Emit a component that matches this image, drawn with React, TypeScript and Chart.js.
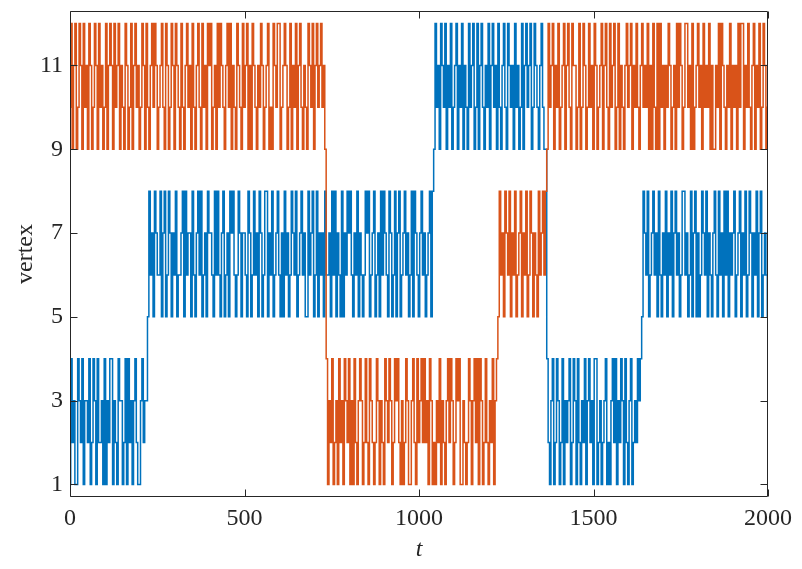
import { useEffect, useRef } from "react";
import { Chart, registerables } from "chart.js";

Chart.register(...registerables);

// sampling interval along t of the hand-read values
const T_STEP = 4;

const xTickValues = [0, 500, 1000, 1500, 2000];
const yTickValues = [1, 3, 5, 7, 9, 11];

// ---- blue series (segments start at these t values) ----
const blueStarts = [0, 224, 1044, 1368, 1640];
const blueSeg1 = [
  1, 4, 2, 3, 1, 1, 4, 3, 2, 4, 1, 3, 3, 2, 4, 1, 2, 4, 3, 1, 4, 2, 2, 3, 1, 4, 1, 3, 2, 4,
  4, 1, 3, 2, 1, 4, 3, 3, 1, 2, 4, 1, 4, 2, 3, 1, 3, 4, 2, 1, 1, 3, 4, 2, 3, 3,
];
const blueSeg2 = [
  5, 8, 6, 7, 5, 8, 7, 6, 6, 8, 5, 7, 8, 5, 6, 8, 7, 5, 7, 6, 8, 5, 6, 6, 7, 8, 5, 8, 6, 7,
  7, 5, 8, 6, 5, 7, 8, 6, 8, 5, 6, 7, 5, 8, 7, 7, 6, 5, 8, 6, 8, 6, 5, 7, 8, 5, 6, 7, 5, 8,
  7, 8, 6, 5, 6, 8, 7, 5, 7, 7, 6, 5, 8, 7, 5, 6, 8, 6, 7, 5, 8, 7, 5, 6, 8, 8, 5, 7, 6, 8,
  5, 6, 7, 8, 6, 5, 7, 5, 8, 6, 7, 5, 6, 8, 7, 6, 8, 5, 6, 7, 8, 6, 7, 5, 5, 8, 6, 7, 8, 5,
  6, 8, 5, 7, 6, 7, 5, 8, 6, 6, 7, 5, 8, 6, 8, 5, 7, 6, 5, 8, 5, 7, 6, 8, 7, 8, 6, 5, 7, 6,
  8, 5, 7, 6, 5, 6, 8, 7, 8, 5, 6, 7, 8, 5, 6, 7, 5, 8, 6, 8, 7, 6, 5, 8, 7, 5, 6, 8, 5, 7,
  8, 5, 6, 7, 8, 6, 7, 5, 6, 8, 5, 8, 7, 6, 5, 7, 8, 6, 7, 5, 6, 7, 8, 5, 8,
];
const blueSeg3 = [
  9, 12, 10, 11, 9, 12, 11, 10, 12, 9, 11, 10, 12, 9, 10, 11, 12, 9, 11, 10,
  12, 9, 11, 10, 9, 12, 10, 11, 12, 9, 10, 12, 9, 11, 12, 10, 9, 11, 10, 12,
  9, 11, 12, 10, 11, 9, 12, 10, 9, 11, 12, 10, 9, 12, 11, 10, 11, 9, 12, 10,
  11, 9, 10, 12, 9, 11, 12, 10, 11, 12, 9, 10, 12, 11, 10, 9, 11, 12, 10, 9, 9,
];
const blueSeg4 = [
  4, 2, 1, 3, 4, 1, 2, 4, 3, 1, 2, 4, 1, 3, 2, 3, 4, 1, 2, 4, 3, 1, 4, 2, 1, 3, 2, 4, 1, 3,
  4, 2, 3, 1, 4, 4, 1, 2, 3, 1, 2, 3, 4, 1, 2, 1, 3, 4, 2, 4, 1, 3, 2, 4, 3, 1, 4, 2, 1, 3,
  4, 1, 2, 3, 2, 4, 3, 4,
];
const blueSeg5 = [
  5, 8, 7, 6, 8, 5, 6, 7, 8, 6, 7, 5, 8, 6, 5, 7, 6, 8, 5, 7, 6, 8, 5, 7, 8, 6, 7, 5, 6, 8,
  8, 6, 7, 5, 6, 8, 5, 7, 8, 5, 7, 5, 6, 8, 7, 6, 8, 5, 7, 6, 5, 7, 8, 6, 5, 8, 6, 7, 5, 8,
  6, 8, 5, 7, 6, 7, 8, 5, 6, 7, 8, 5, 7, 6, 8, 5, 6, 8, 7, 5, 7, 6, 8, 5, 7, 8, 5, 6, 7, 6,
  5,
];

// ---- orange series ----
const orangeStarts = [0, 736, 1228, 1368];
const orangeSeg1 = [
  10, 12, 9, 11, 12, 9, 10, 12, 11, 9, 12, 10, 11, 9, 12, 11, 9, 10, 12, 11,
  9, 12, 10, 11, 9, 10, 12, 9, 11, 12, 11, 9, 12, 10, 11, 12, 9, 11, 10, 9,
  12, 11, 9, 10, 12, 9, 11, 12, 10, 11, 9, 10, 12, 11, 9, 12, 10, 9, 11, 12,
  10, 12, 11, 9, 10, 11, 12, 10, 9, 12, 11, 9, 10, 12, 11, 9, 12, 11, 10, 9,
  12, 10, 9, 11, 12, 10, 11, 9, 12, 10, 9, 11, 12, 10, 9, 12, 10, 11, 9, 12,
  11, 12, 9, 10, 11, 9, 12, 10, 12, 11, 10, 9, 11, 12, 10, 12, 9, 11, 10, 9,
  12, 11, 10, 9, 12, 10, 11, 12, 9, 11, 9, 12, 11, 10, 9, 11, 10, 12, 11, 9,
  10, 11, 12, 9, 10, 9, 12, 11, 10, 12, 12, 9, 10, 11, 12, 11, 9, 10, 12, 9,
  11, 10, 12, 9, 11, 12, 10, 9, 11, 10, 9, 12, 11, 10, 12, 9, 11, 12, 10, 11,
  12, 10, 11, 9,
];
const orangeSeg2 = [
  4, 1, 3, 2, 4, 1, 2, 3, 1, 4, 2, 3, 1, 4, 3, 2, 4, 1, 3, 1, 4, 2, 1, 3, 4, 3, 1, 2, 4, 2,
  1, 4, 3, 2, 1, 2, 4, 3, 1, 3, 2, 1, 4, 3, 2, 4, 3, 1, 2, 4, 3, 4, 2, 1, 3, 1, 2, 4, 3, 1,
  1, 3, 4, 2, 1, 4, 2, 3, 4, 2, 4, 2, 3, 1, 4, 3, 1, 2, 1, 3, 2, 4, 1, 3, 2, 1, 3, 4, 2, 4,
  3, 1, 2, 4, 3, 4, 1, 1, 3, 2, 1, 2, 4, 3, 1, 3, 4, 2, 4, 1, 4, 3, 1, 2, 4, 2, 1, 3, 2, 4,
  1, 3, 4,
];
const orangeSeg3 = [
  5, 8, 6, 7, 5, 8, 7, 6, 8, 5, 7, 6, 8, 5, 6, 7, 8, 5, 7, 6, 8, 5, 6, 8, 7, 5, 7, 6, 5, 8,
  6, 7, 8, 6, 8,
];
const orangeSeg4 = [
  9, 12, 10, 11, 12, 9, 11, 10, 12, 9, 10, 11, 12, 9, 11, 12, 10, 9, 12, 11,
  11, 9, 10, 12, 9, 10, 12, 11, 9, 10, 12, 10, 11, 9, 12, 11, 9, 10, 11, 12,
  9, 11, 12, 10, 9, 12, 10, 11, 12, 9, 10, 12, 9, 11, 10, 9, 11, 12, 10, 11,
  12, 9, 11, 10, 12, 10, 9, 11, 12, 10, 11, 10, 12, 9, 11, 9, 12, 10, 9, 12,
  9, 12, 10, 11, 9, 11, 10, 12, 11, 9, 10, 11, 9, 12, 10, 12, 11, 9, 10, 12,
  12, 10, 11, 9, 12, 9, 10, 11, 12, 10, 11, 9, 12, 10, 11, 10, 12, 9, 11, 9,
  9, 11, 10, 12, 9, 12, 11, 10, 9, 11, 10, 12, 9, 11, 10, 11, 9, 12, 10, 12,
  12, 9, 11, 10, 12, 10, 9, 11, 12, 9, 11, 10, 12, 9, 10, 12, 11, 9, 10,
];

const BLUE = "#0072BD";
const ORANGE = "#D95319";
const AXIS = "#262626";
const FONT = "'Liberation Serif', 'Times New Roman', serif";

function toPoints(starts: number[], segs: number[][]) {
  const pts: { x: number; y: number }[] = [];
  segs.forEach((seg, k) => {
    seg.forEach((v, i) => pts.push({ x: starts[k] + i * T_STEP, y: v }));
  });
  return pts;
}

const boxTicksPlugin = {
  id: "boxTicks",
  afterDatasetsDraw(chart: any) {
    const { ctx, chartArea: a, scales } = chart;
    const L = Math.round(a.left) + 0.5;
    const R = Math.round(a.right) - 0.5;
    const T = Math.round(a.top) + 0.5;
    const B = Math.round(a.bottom) - 0.5;
    const len = 7;
    ctx.save();
    ctx.strokeStyle = AXIS;
    ctx.lineWidth = 1;
    ctx.beginPath();
    ctx.rect(L, T, R - L, B - T);
    for (const v of xTickValues) {
      const px = Math.round(scales.x.getPixelForValue(v)) + 0.5;
      ctx.moveTo(px, B);
      ctx.lineTo(px, B - len);
      ctx.moveTo(px, T);
      ctx.lineTo(px, T + len);
    }
    for (const v of yTickValues) {
      const py = Math.round(scales.y.getPixelForValue(v)) + 0.5;
      ctx.moveTo(L, py);
      ctx.lineTo(L + len, py);
      ctx.moveTo(R, py);
      ctx.lineTo(R - len, py);
    }
    ctx.stroke();
    ctx.restore();
  },
};

export default function App() {
  const ref = useRef<HTMLCanvasElement | null>(null);

  useEffect(() => {
    if (!ref.current) return;
    const chart = new Chart(ref.current, {
      type: "line",
      data: {
        datasets: [
          {
            label: "walker 2",
            data: toPoints(orangeStarts, [orangeSeg1, orangeSeg2, orangeSeg3, orangeSeg4]),
            borderColor: ORANGE,
            borderWidth: 1.5,
            pointRadius: 0,
            stepped: "middle",
            order: 0,
          },
          {
            label: "walker 1",
            data: toPoints(blueStarts, [blueSeg1, blueSeg2, blueSeg3, blueSeg4, blueSeg5]),
            borderColor: BLUE,
            borderWidth: 1.5,
            pointRadius: 0,
            stepped: "middle",
            order: 1,
          },
        ],
      },
      options: {
        responsive: false,
        animation: false,
        parsing: false as any,
        normalized: true,
        layout: { padding: { top: 11, right: 34, left: 0, bottom: 0 } },
        plugins: {
          legend: { display: false },
          tooltip: { enabled: false },
        },
        scales: {
          x: {
            type: "linear",
            min: 0,
            max: 2000,
            grid: { display: false, drawTicks: false },
            border: { display: false },
            afterBuildTicks: (s: any) => {
              s.ticks = xTickValues.map((v) => ({ value: v }));
            },
            afterFit: (s: any) => {
              s.height = 72;
              s.paddingLeft = 0;
              s.paddingRight = 0;
            },
            ticks: {
              color: AXIS,
              padding: 7,
              maxRotation: 0,
              font: { family: FONT, size: 24 },
              callback: (v: any) => String(v),
            },
            title: {
              display: true,
              text: "t",
              color: AXIS,
              padding: { top: 0, bottom: 5 },
              font: { family: FONT, size: 24, style: "italic" },
            },
          },
          y: {
            type: "linear",
            min: 0.7,
            max: 12.3,
            grid: { display: false, drawTicks: false },
            border: { display: false },
            afterBuildTicks: (s: any) => {
              s.ticks = yTickValues.map((v) => ({ value: v }));
            },
            afterFit: (s: any) => {
              s.width = 70;
              s.paddingTop = 0;
              s.paddingBottom = 0;
            },
            ticks: {
              color: AXIS,
              padding: 7,
              font: { family: FONT, size: 24 },
              callback: (v: any) => String(v),
            },
            title: {
              display: true,
              text: "vertex",
              color: AXIS,
              padding: { top: 11, bottom: 0 },
              font: { family: FONT, size: 24 },
            },
          },
        },
      },
      plugins: [boxTicksPlugin],
    });
    return () => chart.destroy();
  }, []);

  return (
    <div style={{ position: "fixed", left: 0, top: 0, width: 802, height: 569, background: "#fff" }}>
      <canvas ref={ref} width={802} height={569} />
    </div>
  );
}
